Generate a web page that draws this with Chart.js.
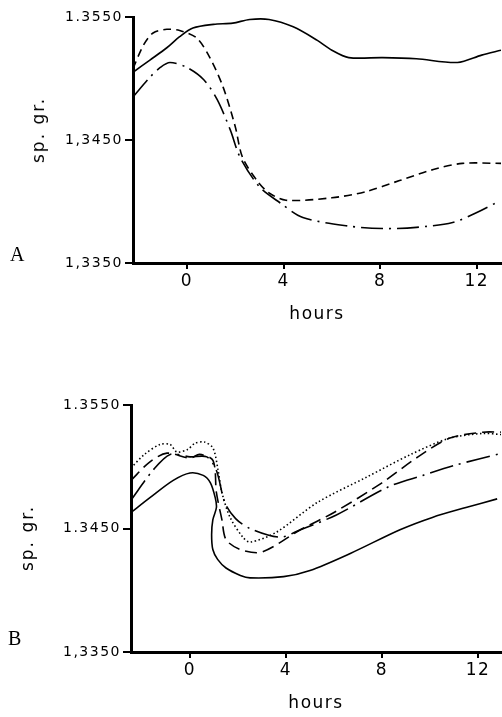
<!DOCTYPE html>
<html>
<head>
<meta charset="utf-8">
<script src="https://cdn.jsdelivr.net/npm/chart.js@4.4.1/dist/chart.umd.min.js"></script>
<style>
  body { margin: 0; background: #fff; }
  #pagina { position: relative; width: 502px; height: 717px; overflow: hidden; }
  .panel { position: absolute; left: 0; width: 502px; }
  .letra { position: absolute; font-family: "Liberation Serif", serif; font-size: 20px; color: #000; }
  .ytitulo { position: absolute; font-family: "DejaVu Sans", sans-serif; font-size: 17px; letter-spacing: 2px;
             color: #000; transform: translate(-50%, -50%) rotate(-90deg); white-space: nowrap; }
</style>
</head>
<body>
<div id="pagina">
  <div class="panel" style="top:0; height:340px;"><canvas id="graficaA"></canvas></div>
  <div class="panel" style="top:360px; height:357px;"><canvas id="graficaB"></canvas></div>
  <div class="letra" style="left:10px; top:243px;">A</div>
  <div class="letra" style="left:8px; top:627px;">B</div>
  <div class="ytitulo" style="left:38px; top:130px;">sp. gr.</div>
  <div class="ytitulo" style="left:27px; top:538px;">sp. gr.</div>
</div>
<script>
// ticks
const ticksX = [0, 4, 8, 12];
const ticksY = [1.3350, 1.3450, 1.3550];
const etiquetasYA = ["1,3350", "1,3450", "1.3550"];
const etiquetasYB = ["1,3350", "1.3450", "1.3550"];

// Panel A
const horasA_solida = [-2.23, -1.53, -0.83, -0.3, 0.25, 1.1, 1.9, 2.6, 3.4, 4.4, 5.4, 6.0, 6.7, 8.1, 9.5, 11.2, 12.2, 13.0];
const valoresA_solida = [1.3505, 1.3515, 1.3525, 1.3534, 1.3541, 1.3544, 1.3545, 1.3548, 1.3548, 1.3542, 1.3531, 1.3523, 1.3517, 1.3517, 1.3516, 1.3513, 1.3519, 1.3523];

const horasA_guiones = [-2.23, -1.8, -1.4, -0.83, -0.3, 0.4, 0.95, 1.5, 2.0, 2.3, 2.9, 3.4, 4.1, 6.0, 7.4, 8.8, 10.2, 11.4, 13.0];
const valoresA_guiones = [1.3508, 1.3527, 1.3537, 1.3540, 1.3539, 1.3533, 1.3517, 1.3493, 1.3461, 1.3436, 1.3417, 1.3407, 1.3401, 1.3403, 1.3408, 1.3417, 1.3426, 1.3431, 1.3431];

const horasA_punto = [-2.23, -1.53, -1.1, -0.7, 0, 0.7, 1.25, 1.8, 2.2, 3.0, 3.85, 4.8, 6.7, 8.1, 9.5, 11.0, 12.0, 12.9];
const valoresA_punto = [1.3485, 1.3501, 1.3509, 1.3513, 1.3509, 1.3499, 1.3483, 1.3458, 1.3436, 1.3412, 1.3399, 1.3387, 1.3380, 1.3378, 1.3379, 1.3383, 1.3391, 1.3400];

// Panel B
const horasB_solida = [-2.46, -1.67, -0.7, 0, 0.55, 0.85, 1.05, 1.1, 0.95, 0.9, 0.95, 1.15, 1.5, 2.1, 2.5, 3.9, 5.0, 6.7, 8.75, 10.1, 11.5, 12.8];
const valoresB_solida = [1.3463, 1.3475, 1.3489, 1.3495, 1.3493, 1.3487, 1.3475, 1.3467, 1.3457, 1.3445, 1.3433, 1.3425, 1.3418, 1.3412, 1.3410, 1.3411, 1.3416, 1.3430, 1.3449, 1.3459, 1.3467, 1.3474];

const horasB_puntos = [-2.46, -1.9, -1.25, -0.83, -0.55, -0.1, 0.2, 0.6, 0.96, 1.17, 1.33, 1.67, 2.2, 2.5, 3.6, 5.3, 7.4, 9.2, 10.8, 12.2, 13.0];
const valoresB_puntos = [1.3499, 1.3510, 1.3518, 1.3518, 1.3512, 1.3514, 1.3519, 1.3520, 1.3515, 1.3497, 1.3479, 1.3459, 1.3443, 1.3439, 1.3447, 1.3471, 1.3492, 1.3510, 1.3523, 1.3527, 1.3526];

const horasB_guiones = [-2.46, -1.67, -0.96, 0, 0.4, 0.96, 1.1, 1.33, 1.5, 2.1, 3.0, 4.6, 6.0, 8.0, 9.5, 10.8, 12.2, 13.0];
const valoresB_guiones = [1.3489, 1.3504, 1.3511, 1.3507, 1.3510, 1.3505, 1.3479, 1.3457, 1.3441, 1.3433, 1.3431, 1.3449, 1.3463, 1.3487, 1.3508, 1.3523, 1.3528, 1.3528];

const horasB_punto = [-2.46, -1.55, -0.83, 0, 0.7, 1.1, 1.45, 1.9, 2.5, 3.75, 4.6, 6.1, 8.3, 9.7, 11.0, 13.0];
const valoresB_punto = [1.3473, 1.3497, 1.3510, 1.3508, 1.3508, 1.3497, 1.3471, 1.3458, 1.3450, 1.3443, 1.3449, 1.3461, 1.3484, 1.3493, 1.3501, 1.3511];

// junta horas y valores en puntos {x, y}
function puntos(horas, valores) {
  return horas.map((h, i) => ({ x: h, y: valores[i] }));
}

function serie(horas, valores, dash) {
  return {
    data: puntos(horas, valores),
    borderColor: '#000',
    borderWidth: 1.6,
    borderDash: dash,
    pointRadius: 0,
    tension: 0.3,
    fill: false
  };
}

// espaciado de letras en el canvas (como la figura original)
const espaciado = {
  id: 'espaciado',
  beforeUpdate(chart) { chart.ctx.letterSpacing = '1.5px'; },
  beforeDraw(chart) { chart.ctx.letterSpacing = '1.5px'; }
};

function crearGrafica(id, datasets, etiquetasY, cfg) {
  const ctx = document.getElementById(id).getContext('2d');
  return new Chart(ctx, {
    type: 'line',
    data: { datasets: datasets },
    plugins: [espaciado],
    options: {
      responsive: true,
      maintainAspectRatio: false,
      animation: false,
      layout: { padding: { top: cfg.arriba, right: 1, left: 0, bottom: 0 } },
      plugins: { legend: { display: false }, tooltip: { enabled: false } },
      scales: {
        x: {
          type: 'linear',
          min: cfg.xmin,
          max: cfg.xmax,
          afterBuildTicks: (scale) => { scale.ticks = ticksX.map(v => ({ value: v })); },
          afterFit: (scale) => { scale.height = cfg.altoX; },
          ticks: { color: '#000', font: { family: 'DejaVu Sans', size: 17 }, padding: 2, maxRotation: 0 },
          grid: { drawOnChartArea: false, drawTicks: true, tickLength: 6, color: '#000', lineWidth: 2 },
          border: { display: true, color: '#000', width: 3 },
          title: {
            display: true, text: 'hours', color: '#000',
            font: { family: 'DejaVu Sans', size: 17 },
            padding: { top: 0, bottom: cfg.pieTitulo }
          }
        },
        y: {
          min: 1.3350,
          max: 1.3550,
          afterBuildTicks: (scale) => { scale.ticks = ticksY.map(v => ({ value: v })); },
          afterFit: (scale) => { scale.width = cfg.anchoY; },
          ticks: {
            color: '#000', font: { family: 'DejaVu Sans', size: 14 }, padding: 2,
            callback: (v, i) => etiquetasY[i]
          },
          grid: { drawOnChartArea: false, drawTicks: true, tickLength: 8, color: '#000', lineWidth: 2 },
          border: { display: true, color: '#000', width: 3 }
        }
      }
    }
  });
}

crearGrafica('graficaA', [
  serie(horasA_solida, valoresA_solida, []),
  serie(horasA_guiones, valoresA_guiones, [8, 5]),
  serie(horasA_punto, valoresA_punto, [22, 6, 2, 6])
], etiquetasYA, { arriba: 17, xmin: -2.23, xmax: 13.0, altoX: 77, anchoY: 133, pieTitulo: 15 });

crearGrafica('graficaB', [
  serie(horasB_solida, valoresB_solida, []),
  serie(horasB_puntos, valoresB_puntos, [1.5, 2.5]),
  serie(horasB_guiones, valoresB_guiones, [12, 6]),
  serie(horasB_punto, valoresB_punto, [24, 6, 2, 6])
], etiquetasYB, { arriba: 45, xmin: -2.46, xmax: 12.96, altoX: 65, anchoY: 131, pieTitulo: 3 });
</script>
</body>
</html>
